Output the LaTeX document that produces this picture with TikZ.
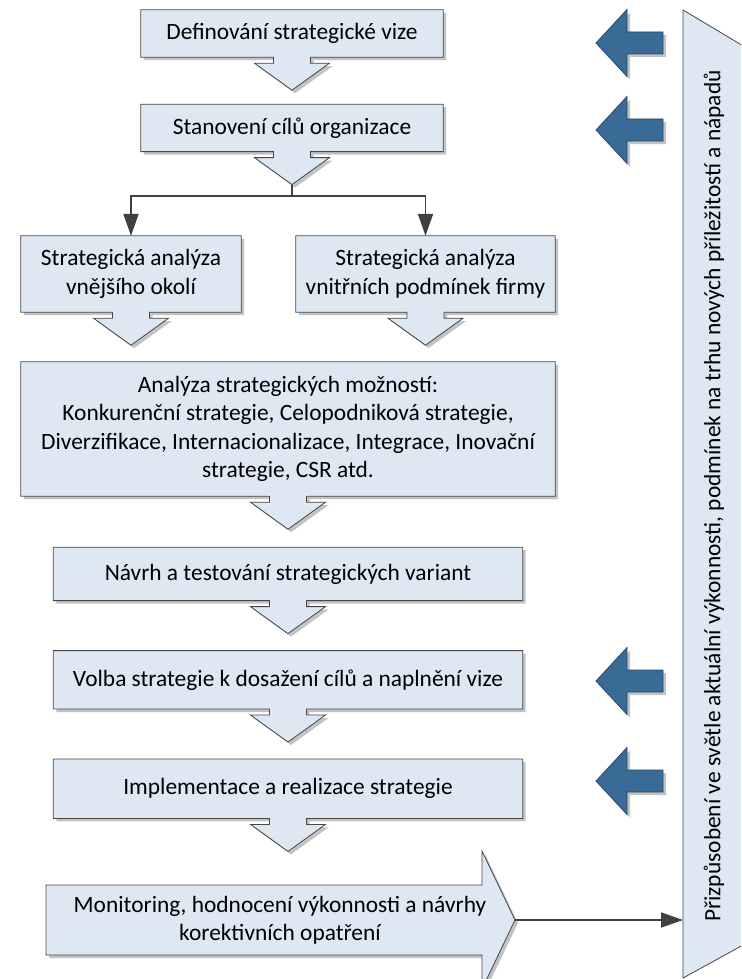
\documentclass[tikz,border=0pt]{standalone}
\usepackage{fontspec}
\setmainfont{Carlito}
\usetikzlibrary{arrows.meta, positioning, calc, shadows}

\definecolor{boxfill}{RGB}{222,232,243}
\definecolor{edgegray}{RGB}{70,70,70}
\definecolor{linegray}{RGB}{64,64,64}
\definecolor{bluefill}{RGB}{58,106,150}
\definecolor{blueedge}{RGB}{38,72,106}
\definecolor{shade}{RGB}{195,195,195}

\newcommand{\boxfont}{\fontsize{23.4}{28.5}\selectfont}

\pgfdeclarelayer{background}
\pgfsetlayers{background,main}

% box with the down arrow hanging from its bottom edge
\newcommand{\stepshape}[1]{%
  \begin{pgfonlayer}{background}
    \draw[procshape] (#1.north west) -- (#1.north east) -- (#1.south east)
      -- ($(#1.south)+(18.5,0)$) -- ++(0,6) -- ++(19,0) -- ($(#1.south)+(0,33)$)
      -- ($(#1.south)+(-37.5,6)$) -- ++(19,0) -- ++(0,-6) -- (#1.south west) -- cycle;
  \end{pgfonlayer}
  \coordinate (#1-tip) at ($(#1.south)+(0,33)$);}

\begin{document}
\begin{tikzpicture}[
  x=1pt, y=-1pt,
  procbox/.style={inner sep=0pt, align=center, font=\boxfont},
  procshape/.style={fill=boxfill, draw=edgegray, line width=0.8pt,
    drop shadow={shadow xshift=3pt, shadow yshift=-3pt, fill=shade, opacity=1}},
  feedback/.style={fill=bluefill, draw=blueedge, line width=0.8pt,
    drop shadow={shadow xshift=3pt, shadow yshift=-3pt, fill=shade, opacity=1}},
  bannershape/.style={fill=boxfill, draw=edgegray, line width=0.8pt},
  conn/.style={draw=linegray, line width=1.9pt, -{Triangle[length=22pt, width=15pt]}}
]
  \useasboundingbox (0,0) rectangle (741,979);
  \clip (0,0) rectangle (741,979);

  % main chain
  \node[procbox, minimum width=302pt, minimum height=47pt] (vize) at (292,33.5) {Definování strategické vize};
  \node[procbox, minimum width=302pt, minimum height=47pt, below=47pt of vize] (cile) {Stanovení cílů organizace};
  \node[procbox, minimum width=220pt, minimum height=76pt] (vnejsi) at (131,274) {Strategická analýza\\vnějšího okolí};
  \node[procbox, minimum width=259pt, minimum height=76pt] (vnitrni) at (425.5,274) {Strategická analýza\\vnitřních podmínek firmy};
  \node[procbox, minimum width=534pt, minimum height=134pt] (moznosti) at (288,429) {Analýza strategických možností:\\Konkurenční strategie, Celopodniková strategie,\\Diverzifikace, Internacionalizace, Integrace, Inovační\\strategie, CSR atd.};
  \node[procbox, minimum width=469pt, minimum height=53pt, below=51pt of moznosti] (navrh) {Návrh a testování strategických variant};
  \node[procbox, minimum width=469pt, minimum height=58pt, below=50pt of navrh] (volba) {Volba strategie k dosažení cílů a naplnění vize};
  \node[procbox, minimum width=469pt, minimum height=59pt, below=50pt of volba] (impl) {Implementace a realizace strategie};

  \stepshape{vize}
  \stepshape{cile}
  \stepshape{vnejsi}
  \stepshape{vnitrni}
  \stepshape{moznosti}
  \stepshape{navrh}
  \stepshape{volba}
  \stepshape{impl}

  % split into the two analyses
  \coordinate (split) at ($(cile-tip)+(0,11)$);
  \draw[line width=1.9pt, draw=linegray] (cile-tip) -- (split);
  \draw[conn] (split) -| (vnejsi.north);
  \draw[conn] (split) -| (vnitrni.north);

  % monitoring arrow
  \draw[procshape] (46,885) -- (482,885) -- (482,851) -- (515,920) -- (482,989) -- (482,955) -- (46,955) -- cycle;
  \node[procbox] (monitor) at (280,920) {Monitoring, hodnocení výkonnosti a návrhy\\korektivních opatření};
  \coordinate (montip) at (515,920);

  % feedback banner
  \draw[bannershape] (683,10) -- (745,47) -- (745,944) -- (683,978) -- cycle;
  \node[rotate=90, font=\boxfont] (adapt) at (714,496) {Přizpůsobení ve světle aktuální výkonnosti, podmínek na trhu nových příležitostí a nápadů};
  \coordinate (adaptin) at (683,920);
  \draw[conn] (montip) -- (adaptin);

  % blue feedback arrows
  \foreach \n/\y in {a/43, b/130, c/681, d/781}{
    \coordinate (fb\n) at (596,\y);
    \draw[feedback] (fb\n) -- ++(31,-33.5) -- ++(0,22.5) -- ++(36,0) -- ++(0,22) -- ++(-36,0) -- ++(0,22.5) -- cycle;
  }
\end{tikzpicture}
\end{document}
